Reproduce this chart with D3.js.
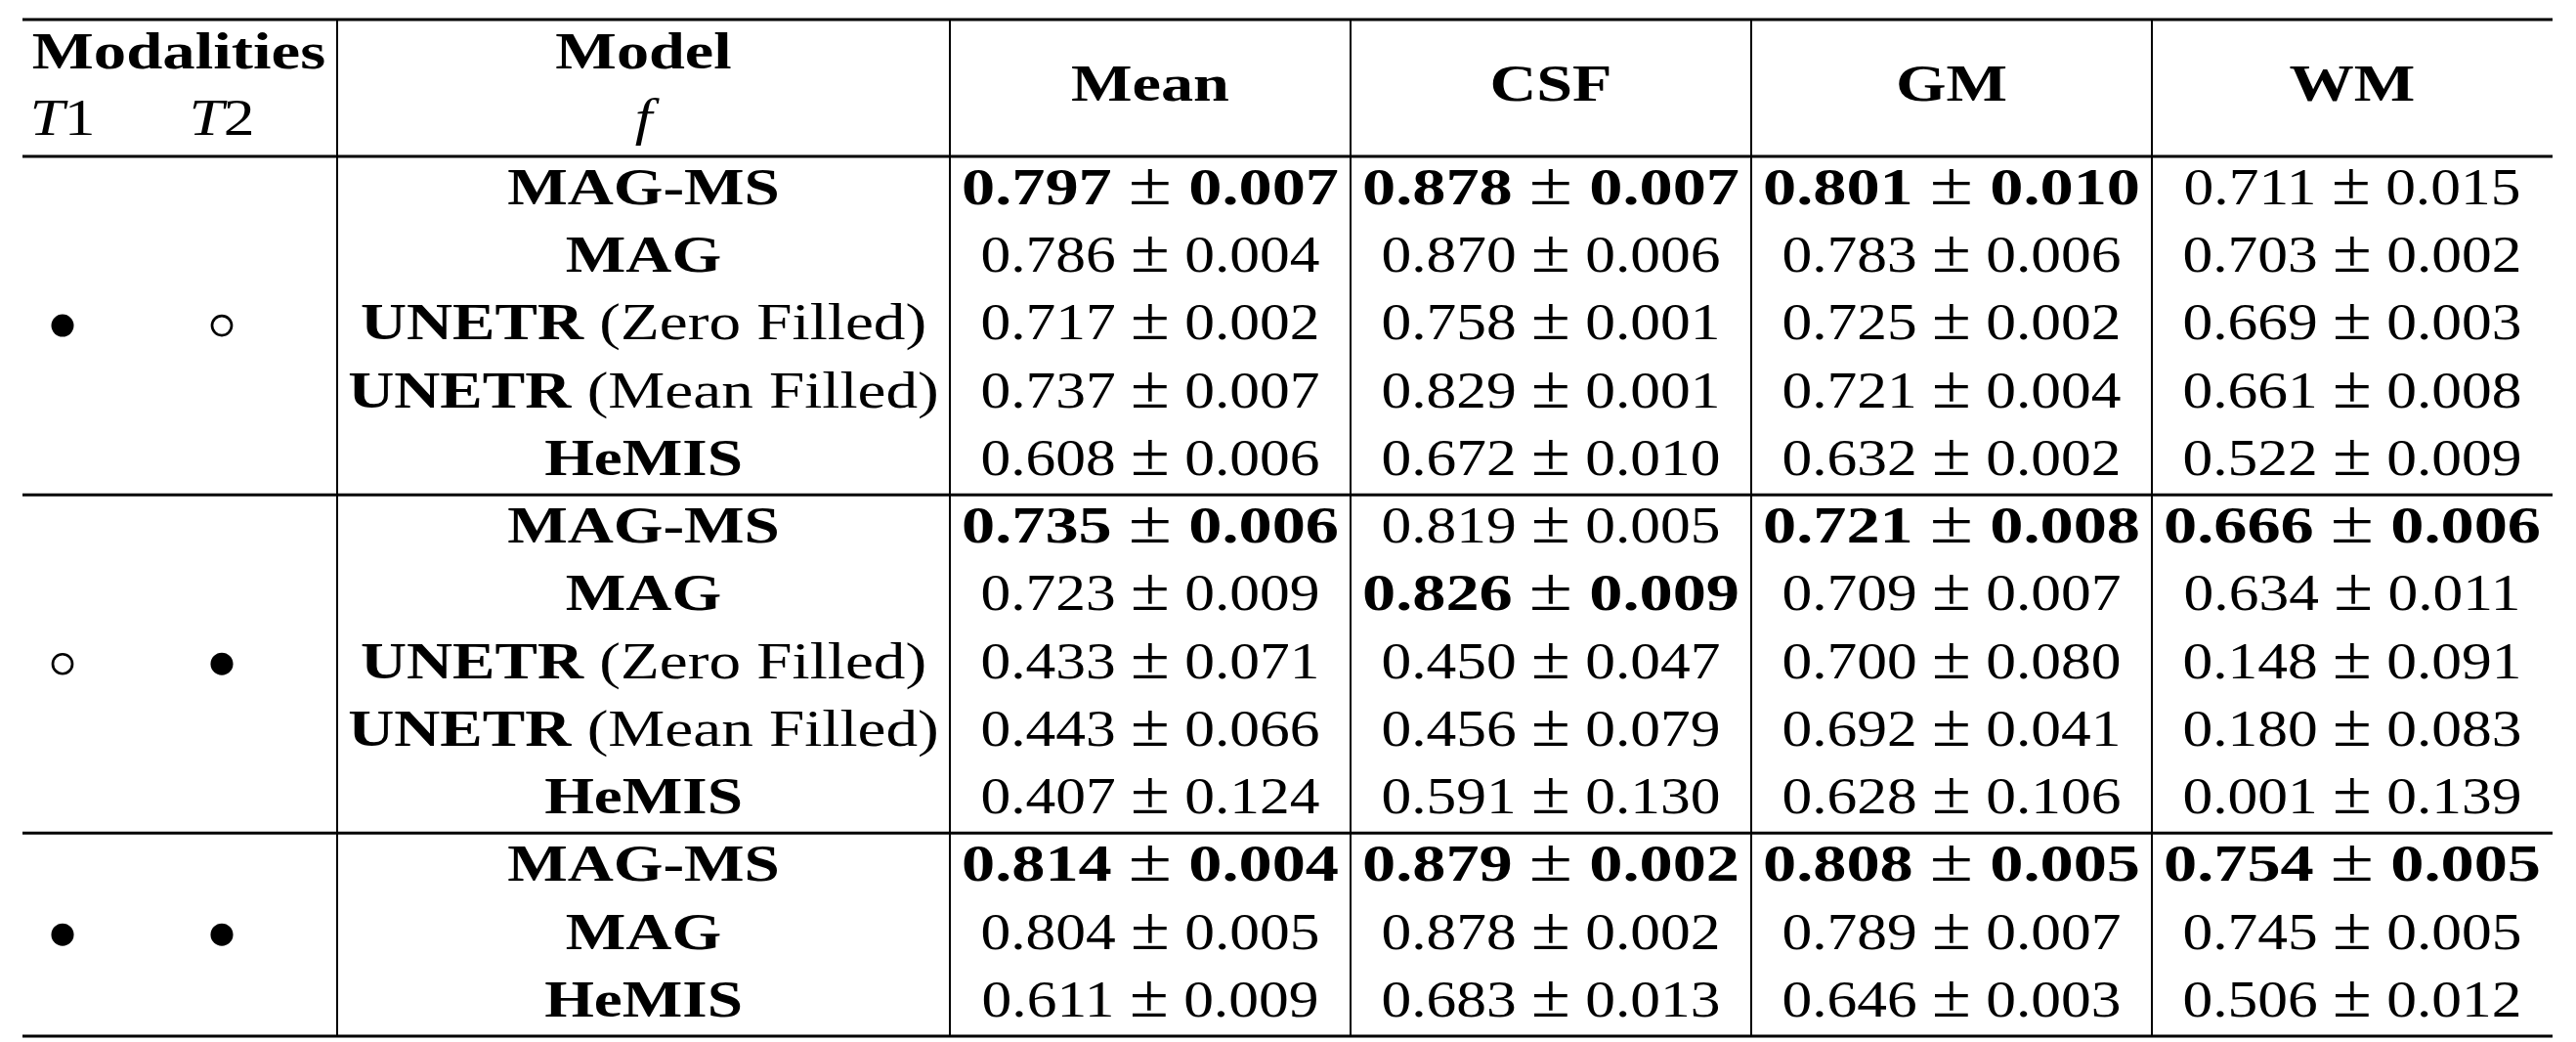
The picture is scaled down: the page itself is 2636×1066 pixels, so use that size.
<!DOCTYPE html>
<html>
<head>
<meta charset="utf-8">
<script src="https://cdn.jsdelivr.net/npm/d3@7"></script>
<style>
  html, body { margin: 0; padding: 0; background: #fff; }
  svg { display: block; }
  text { font-family: "Liberation Serif", "Times New Roman", serif; fill: #000; }
</style>
</head>
<body>
<svg id="chart" width="2636" height="1066"></svg>
<script>
// ---------------- data ----------------
const metrics = ["Mean", "CSF", "GM", "WM"];
const groupSizes = [5, 5, 3];
const t1Present = [true, false, true];
const t2Present = [false, true, true];

const modelNames = ["MAG-MS", "MAG", "UNETR", "UNETR", "HeMIS",
                    "MAG-MS", "MAG", "UNETR", "UNETR", "HeMIS",
                    "MAG-MS", "MAG", "HeMIS"];
const modelNotes = ["", "", "(Zero Filled)", "(Mean Filled)", "",
                    "", "", "(Zero Filled)", "(Mean Filled)", "",
                    "", "", ""];

const meanVal = ["0.797","0.786","0.717","0.737","0.608","0.735","0.723","0.433","0.443","0.407","0.814","0.804","0.611"];
const meanStd = ["0.007","0.004","0.002","0.007","0.006","0.006","0.009","0.071","0.066","0.124","0.004","0.005","0.009"];
const csfVal  = ["0.878","0.870","0.758","0.829","0.672","0.819","0.826","0.450","0.456","0.591","0.879","0.878","0.683"];
const csfStd  = ["0.007","0.006","0.001","0.001","0.010","0.005","0.009","0.047","0.079","0.130","0.002","0.002","0.013"];
const gmVal   = ["0.801","0.783","0.725","0.721","0.632","0.721","0.709","0.700","0.692","0.628","0.808","0.789","0.646"];
const gmStd   = ["0.010","0.006","0.002","0.004","0.002","0.008","0.007","0.080","0.041","0.106","0.005","0.007","0.003"];
const wmVal   = ["0.711","0.703","0.669","0.661","0.522","0.666","0.634","0.148","0.180","0.001","0.754","0.745","0.506"];
const wmStd   = ["0.015","0.002","0.003","0.008","0.009","0.006","0.011","0.091","0.083","0.139","0.005","0.005","0.012"];

const meanBold = [1,0,0,0,0, 1,0,0,0,0, 1,0,0];
const csfBold  = [1,0,0,0,0, 0,1,0,0,0, 1,0,0];
const gmBold   = [1,0,0,0,0, 1,0,0,0,0, 1,0,0];
const wmBold   = [0,0,0,0,0, 1,0,0,0,0, 1,0,0];

const metricValues = [meanVal, csfVal, gmVal, wmVal];
const metricStds = [meanStd, csfStd, gmStd, wmStd];
const metricBold = [meanBold, csfBold, gmBold, wmBold];

// ---------------- layout ----------------
const FS = 53;
const left = 23, right = 2612;
const modEnd = 345, modelEnd = 972;
const tableTop = 20, headBottom = 160, tableBottom = 1060;
const nRows = modelNames.length;

const svg = d3.select("#chart");

const y = d3.scaleLinear().domain([0, nRows]).range([headBottom, tableBottom]);
const xMetric = d3.scaleBand().domain(metrics).range([modelEnd, right]);
const xMod = d3.scalePoint().domain(["T1", "T2"]).range([64, 227]);
const modelCx = (modEnd + modelEnd) / 2;

// helper: text with horizontal stretch (Computer Modern is wider than Times)
function stretchedText(g, cx, baseline, sx) {
  return g.append("text")
    .attr("text-anchor", "middle")
    .attr("font-size", FS)
    .attr("transform", `translate(${cx},${baseline}) scale(${sx},1)`);
}

// ---------------- rules ----------------
const rules = svg.append("g").attr("stroke", "#000");
let acc = 0;
const hLines = [tableTop, headBottom];
groupSizes.forEach(s => { acc += s; hLines.push(y(acc)); });
rules.selectAll("line.h").data(hLines).join("line")
  .attr("class", "h")
  .attr("x1", left).attr("x2", right)
  .attr("y1", d => d).attr("y2", d => d)
  .attr("stroke-width", 3);
const vLines = [modEnd, modelEnd].concat(metrics.slice(1).map(m => xMetric(m)));
rules.selectAll("line.v").data(vLines).join("line")
  .attr("class", "v")
  .attr("x1", d => d).attr("x2", d => d)
  .attr("y1", tableTop).attr("y2", tableBottom)
  .attr("stroke-width", 2);

// ---------------- header ----------------
const head = svg.append("g");
stretchedText(head, (left + modEnd) / 2 - 1, 70, 1.26).attr("font-weight", "bold").text("Modalities");
["T1", "T2"].forEach(t => {
  const tx = stretchedText(head, xMod(t), 138, 1.2);
  tx.append("tspan").attr("font-style", "italic").text(t[0]);
  tx.append("tspan").text(t[1]);
});
stretchedText(head, modelCx, 70, 1.25).attr("font-weight", "bold").text("Model");
stretchedText(head, modelCx, 138, 1.2).attr("font-style", "italic").text("f");
metrics.forEach(m => {
  stretchedText(head, xMetric(m) + xMetric.bandwidth() / 2, 103, 1.25)
    .attr("font-weight", "bold").text(m);
});

// ---------------- body ----------------
const body = svg.append("g");
// modality markers
let start = 0;
groupSizes.forEach((s, gi) => {
  const cy = y(start + s / 2);
  [["T1", t1Present[gi]], ["T2", t2Present[gi]]].forEach(([k, present]) => {
    if (present) {
      body.append("circle").attr("cx", xMod(k)).attr("cy", cy).attr("r", 11.5).attr("fill", "#000");
    } else {
      body.append("circle").attr("cx", xMod(k)).attr("cy", cy).attr("r", 10)
        .attr("fill", "none").attr("stroke", "#000").attr("stroke-width", 2.7);
    }
  });
  start += s;
});

const baseOff = 49;
// model names
modelNames.forEach((name, i) => {
  const t = stretchedText(body, modelCx, y(i) + baseOff, 1.23);
  t.append("tspan").attr("font-weight", "bold").text(name);
  if (modelNotes[i]) t.append("tspan").text(" " + modelNotes[i]);
});

// metric values
metrics.forEach((m, mi) => {
  const cx = xMetric(m) + xMetric.bandwidth() / 2;
  metricValues[mi].forEach((v, i) => {
    const bold = metricBold[mi][i] === 1;
    const t = stretchedText(body, cx, y(i) + baseOff, bold ? 1.29 : 1.16);
    t.append("tspan").attr("font-weight", bold ? "bold" : "normal").text(v);
    t.append("tspan").text(" ");
    t.append("tspan").attr("font-size", FS * 1.18).text("\u00B1");
    t.append("tspan").text(" ");
    t.append("tspan").attr("font-weight", bold ? "bold" : "normal").text(metricStds[mi][i]);
  });
});
</script>
</body>
</html>
